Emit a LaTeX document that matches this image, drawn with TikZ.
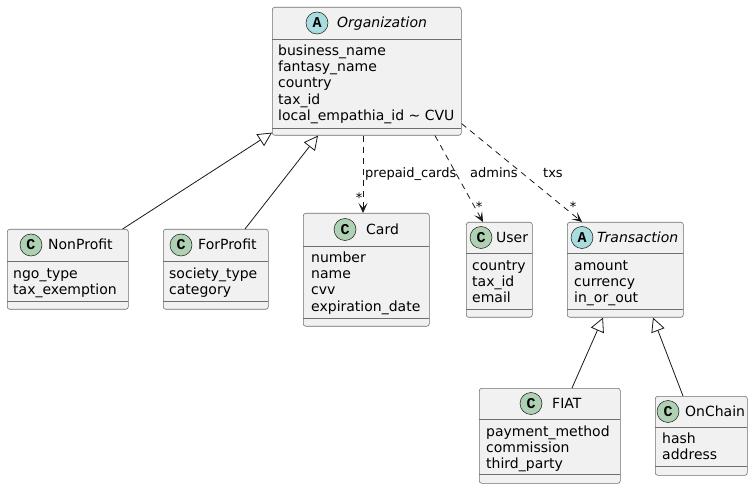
\documentclass[tikz,border=0pt]{standalone}
\usepackage{fontspec}
\setmainfont{DejaVu Sans}
\newfontfamily\circfont{Liberation Mono}
\usetikzlibrary{arrows.meta,calc}
\definecolor{boxfill}{HTML}{F1F1F1}
\definecolor{lc}{HTML}{181818}
\definecolor{bc}{HTML}{6E6E6E}
\definecolor{cgreen}{HTML}{ADD1B2}
\definecolor{ablue}{HTML}{A9DCDF}
\tikzset{
  clsbox/.style={draw=bc, line width=0.6pt, fill=boxfill, rounded corners=2.5pt, inner sep=0pt, anchor=north west},
  divline/.style={draw=bc, line width=0.6pt},
  circC/.style={circle, draw=lc, line width=0.5pt, fill=cgreen, minimum size=22pt, inner sep=0pt, font=\circfont\bfseries\fontsize{15}{15}\selectfont},
  circA/.style={circC, fill=ablue},
  clsname/.style={anchor=base west, inner sep=0pt, font=\fontsize{14}{16}\selectfont},
  attrs/.style={anchor=north west, inner sep=0pt, align=left, font=\fontsize{14}{16.3}\selectfont},
  ext/.style={draw=lc, line width=0.8pt, -{Triangle[fill=white, length=14pt, width=14pt]}},
  dep/.style={draw=lc, line width=0.8pt, dash pattern=on 6pt off 5pt, -{Stealth[length=10pt, width=9pt, inset=5pt]}},
  elabel/.style={inner sep=0pt, anchor=base west, font=\fontsize{13}{15}\selectfont},
  mult/.style={inner sep=0pt, anchor=base, font=\fontsize{13}{15}\selectfont},
}
\newcommand\umlcls[7]{%
  \node[clsbox, minimum width={#4-#2}, minimum height={#5-#3}] (#1) at (#2,#3) {};
  \draw[divline] (#2,#6) -- (#4,#6);
  \draw[divline] (#2,#7) -- (#4,#7);
}
\newcommand\st{\rule{0pt}{12pt}}
\begin{document}
\begin{tikzpicture}[x=1pt, y=-1pt]
\useasboundingbox (0,0) rectangle (753,489);

% Organization
\umlcls{org}{272}{7}{461}{135}{39}{128}
\node[circA] (orgc) at (317,23) {A};
\node[clsname, font=\fontsize{14}{16}\selectfont\itshape] (orgn) at (337,28) {Organization};
\node[attrs] (orga) at (278,43) {\st business\_name\\fantasy\_name\\country\\tax\_id\\local\_empathia\_id \textasciitilde{} CVU};

% NonProfit
\umlcls{np}{7}{229}{128}{309}{261}{301}
\node[circC] (npc) at (31,245) {C};
\node[clsname] (npn) at (48,250) {NonProfit};
\node[attrs] (npa) at (13,266) {\st ngo\_type\\tax\_exemption};

% ForProfit
\umlcls{fp}{163}{229}{268}{309}{261}{301}
\node[circC] (fpc) at (181,245) {C};
\node[clsname] (fpn) at (198,250) {ForProfit};
\node[attrs] (fpa) at (169,266) {\st society\_type\\category};

% Card
\umlcls{card}{303}{213}{429}{326}{246}{318}
\node[circC] (cardc) at (345,229.5) {C};
\node[clsname] (cardn) at (366,234.5) {Card};
\node[attrs] (carda) at (311,250) {\st number\\name\\cvv\\expiration\_date};

% User
\umlcls{user}{466}{222}{532}{317}{253}{309}
\node[circC] (userc) at (481,237.5) {C};
\node[clsname] (usern) at (496,242.5) {User};
\node[attrs] (usera) at (472,258) {\st country\\tax\_id\\email};

% Transaction
\umlcls{trans}{567}{222}{683}{317}{253}{309}
\node[circA] (transc) at (582,237.5) {A};
\node[clsname, font=\fontsize{14}{16}\selectfont\itshape] (transn) at (597,242.5) {Transaction};
\node[attrs] (transa) at (574,258) {\st amount\\currency\\in\_or\_out};

% FIAT
\umlcls{fiat}{479}{388}{620}{483}{419}{474}
\node[circC] (fiatc) at (531,403.5) {C};
\node[clsname] (fiatn) at (552,408.5) {FIAT};
\node[attrs] (fiata) at (486,424) {\st payment\_method\\commission\\third\_party};

% OnChain
\umlcls{oc}{655}{396}{747}{475}{427}{466}
\node[circC] (occ) at (668,411.5) {C};
\node[clsname] (ocn) at (685,416.5) {OnChain};
\node[attrs] (oca) at (662,431) {\st hash\\address};

% inheritance
\draw[ext] ($(np.north east)+(-6,0)$) -- ($(org.south west)+(0,-3)$);
\draw[ext] ($(fp.north west)+(82,0)$) -- ($(org.south west)+(46,0)$);
\draw[ext] ($(fiat.north west)+(93,0)$) -- ($(trans.south west)+(36,0)$);
\draw[ext] ($(oc.north west)+(28,0)$) -- ($(trans.south west)+(86,0)$);

% associations
\draw[dep] ($(org.south west)+(91,0)$) -- ($(card.north west)+(60,0)$);
\draw[dep] ($(org.south west)+(163,0)$) -- ($(user.north west)+(17,0)$);
\draw[dep] ($(org.south east)+(0,-12)$) -- ($(trans.north west)+(15,0)$);

\node[elabel] (l1) at (365,178) {prepaid\_cards};
\node[elabel] (l2) at (470,178) {admins};
\node[elabel] (l3) at (543,178) {txs};
\node[mult] (m1) at (359,202.5) {*};
\node[mult] (m2) at (479,211.5) {*};
\node[mult] (m3) at (573,211.5) {*};
\end{tikzpicture}
\end{document}
